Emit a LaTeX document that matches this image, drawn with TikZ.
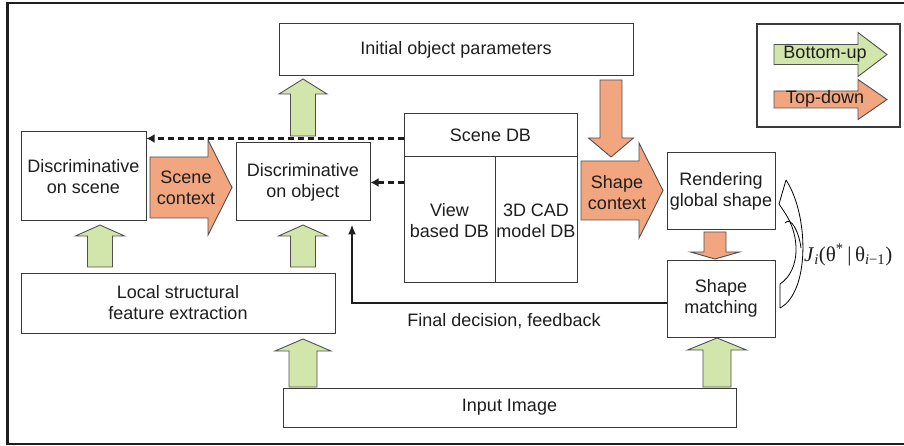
\documentclass[tikz,border=0pt]{standalone}
\usepackage{fontspec}
\setmainfont{Liberation Sans}
\newfontfamily\formfont{Liberation Serif}
\usetikzlibrary{arrows.meta}

\definecolor{inkcol}{HTML}{1E1E1E}
\definecolor{boxcol}{HTML}{3A3A3A}
\definecolor{upgreen}{HTML}{D2E5AB}
\definecolor{downorange}{HTML}{F1A67F}
\definecolor{edgecol}{HTML}{505050}

% vertical block arrow: style, centre x, start y, head-base y, tip y, shaft half width, head half width
\newcommand{\vblock}[7]{%
  \draw[#1] ({#2-#6},#3) -- ({#2-#6},#4) -- ({#2-#7},#4) -- (#2,#5)
    -- ({#2+#7},#4) -- ({#2+#6},#4) -- ({#2+#6},#3) -- cycle;}
% horizontal block arrow: style, centre y, start x, head-base x, tip x, shaft half height, head half height
\newcommand{\hblock}[7]{%
  \draw[#1] (#3,{#2-#6}) -- (#4,{#2-#6}) -- (#4,{#2-#7}) -- (#5,#2)
    -- (#4,{#2+#7}) -- (#4,{#2+#6}) -- (#3,{#2+#6}) -- cycle;}

\newcommand{\txtsize}{\fontsize{18}{21}\selectfont}

\begin{document}
\begin{tikzpicture}[x=1pt,y=-1pt,
  box/.style={draw=boxcol, line width=1pt, fill=white, inner sep=0pt,
    align=center, text=inkcol, font=\txtsize, anchor=center},
  label/.style={inner sep=0pt, align=center, text=inkcol, font=\txtsize},
  bu/.style={fill=upgreen, draw=edgecol, line width=0.9pt, line join=miter},
  td/.style={fill=downorange, draw=edgecol, line width=0.9pt, line join=miter},
  dasharrow/.style={draw=inkcol, line width=2.1pt, dash pattern=on 6pt off 4pt,
    -{Latex[length=8pt,width=9pt]}},
  fbarrow/.style={draw=inkcol, line width=1.8pt, -{Latex[length=10pt,width=8pt]}}]

\clip (0,0) rectangle (904,446);
\useasboundingbox (0,0) rectangle (904,446);

% outer frame
\draw[line width=2.6pt, draw=inkcol] (7.5,3) rectangle (915,444);

% legend
\node[box, line width=2.6pt, minimum width=143pt, minimum height=103pt] (legend) at (828.5,75.5) {};
\hblock{bu}{54.5}{774}{858}{887}{10}{22}
\node[label] (lgbu) at (825,54) {Bottom-up};
\hblock{td}{99.5}{774}{858}{887}{8.5}{20}
\node[label] (lgtd) at (825,99) {Top-down};

% boxes
\node[box, minimum width=354pt, minimum height=52pt] (init) at (456,50) {Initial object parameters};
\node[box, minimum width=125pt, minimum height=89pt] (dscene) at (83.5,176.5) {Discriminative\\on scene};
\node[box, minimum width=134pt, minimum height=78pt] (dobj) at (303,182) {Discriminative\\on object};
\node[box, minimum width=314pt, minimum height=60pt] (local) at (178,303) {Local structural\\feature extraction};
\node[box, minimum width=453pt, minimum height=39pt] (input) at (509.5,407.5) {Input Image};
\node[box, minimum width=108pt, minimum height=77pt] (render) at (721,191.5) {Rendering\\global shape};
\node[box, minimum width=108pt, minimum height=77pt] (match) at (721,298.5) {Shape\\matching};

% scene database
\node[box, minimum width=173pt, minimum height=168pt] (scenedb) at (490.5,198) {};
\draw[boxcol, line width=1pt] (404,157) -- (577,157);
\draw[boxcol, line width=1pt] (495,157) -- (495,282);
\node[label] (sdbtitle) at (490.5,135.5) {Scene DB};
\node[label] (viewdb) at (449.5,221) {View\\based DB};
\node[label] (caddb) at (536,221) {3D CAD\\model DB};

% bottom-up arrows
\vblock{bu}{303}{136}{94}{79}{12.5}{24}
\vblock{bu}{100}{267}{236}{225}{12.5}{24.5}
\vblock{bu}{303}{267}{236}{225}{12.5}{24.5}
\vblock{bu}{303}{387}{351}{339}{14}{28}
\vblock{bu}{717}{387}{350}{338}{14}{29.5}

% top-down arrows
\vblock{td}{611}{80}{138}{157}{11}{22.5}
\vblock{td}{715}{232}{252}{259}{11}{24.5}
\hblock{td}{187.5}{150}{208}{232}{30.5}{47.5}
\node[label] (scctx) at (186,188) {Scene\\context};
\hblock{td}{190.5}{581}{639}{663}{29.5}{47.5}
\node[label] (shctx) at (617,192.5) {Shape\\context};

% database lookups
\coordinate (q1) at ([yshift=-25pt]scenedb.north west);
\draw[dasharrow] (q1) -- (q1 -| dscene.east);
\coordinate (q2) at ([yshift=-69pt]scenedb.north west);
\draw[dasharrow] (q2) -- (q2 -| dobj.east);

% feedback path
\coordinate (fb0) at ([yshift=-4.5pt]match.west);
\coordinate (fb1) at ([xshift=49pt,yshift=-3pt]dobj.south);
\draw[fbarrow] (fb0) -- (fb0 -| fb1) -- (fb1);
\node[label] (fblabel) at (504,321) {Final decision, feedback};

% iteration loop between matching and rendering
\draw[fill=white, draw=black, line width=0.8pt, line join=round]
  (780,308) .. controls (810,292) and (809,215) .. (786,180)
  -- (779,204) -- (785,213)
  .. controls (800,235) and (801,270) .. (780,284) -- cycle;
\draw[black, line width=0.8pt] (785,223) .. controls (791,216) and (799,232) .. (801,248);
\node[inner sep=0pt, text=inkcol, anchor=west] (iterlabel) at (804,255)
  {\formfont\fontsize{21}{21}\selectfont\textit{J}\textsubscript{\textit{i}}(θ\textsuperscript{*}\,|\,θ\textsubscript{\textit{i}−1})};

\end{tikzpicture}
\end{document}
